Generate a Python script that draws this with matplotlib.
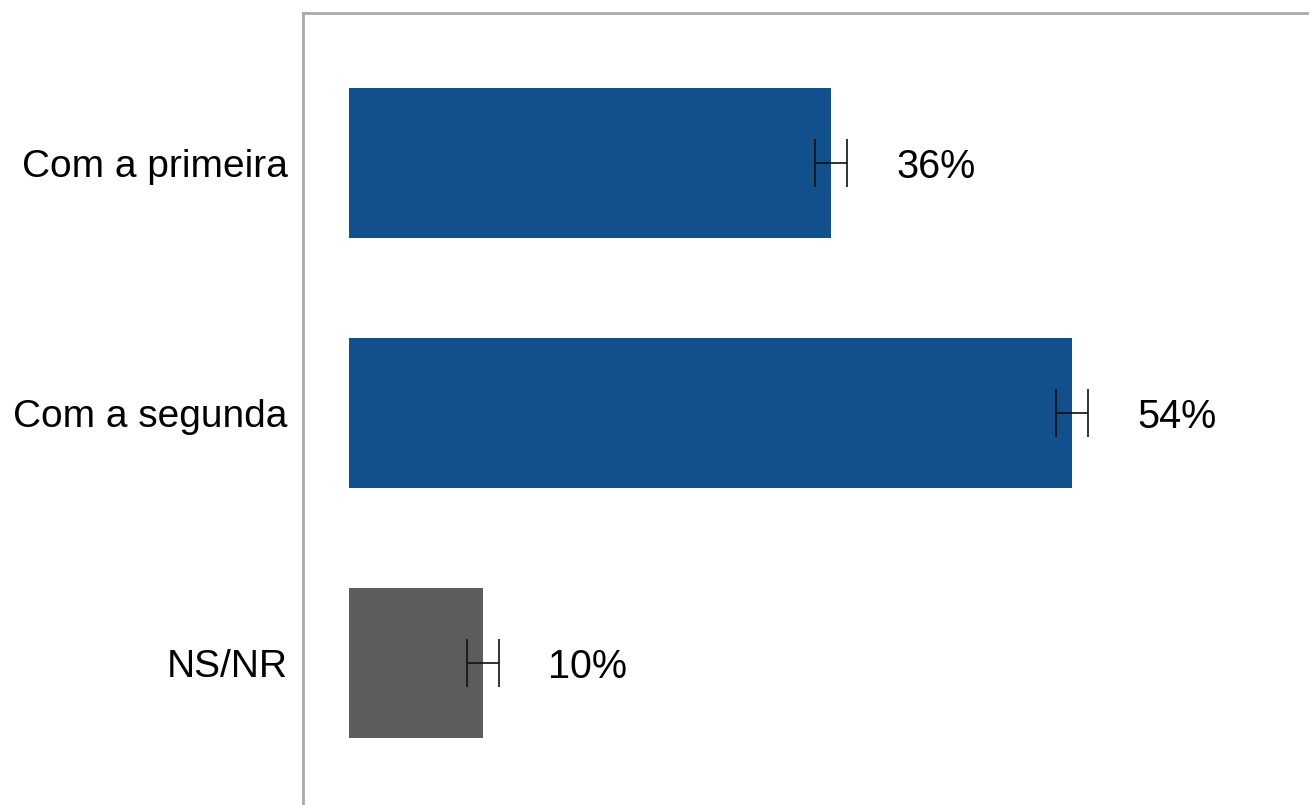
import matplotlib.pyplot as plt

# Data
categories = ['Com a primeira', 'Com a segunda', 'NS/NR']
values = [36, 54, 10]
errors = [1.2, 1.2, 1.2]
labels = ['36%', '54%', '10%']
colors = ['#11508C', '#11508C', '#5C5C5C']

plt.rcParams['font.family'] = ['Liberation Sans', 'DejaVu Sans']

fig = plt.figure(figsize=(13.09, 8.05), dpi=100)
ax = fig.add_axes([303 / 1309, 0, 1 - 303 / 1309, 1 - 13 / 805])

y = list(range(len(categories)))
ax.barh(y, values, height=0.6, color=colors, zorder=2)
ax.errorbar(values, y, xerr=errors, fmt='none', ecolor='#111111',
            elinewidth=1.2, capsize=17, capthick=1.2, zorder=3)

for yi, v, lab in zip(y, values, labels):
    ax.text(v + 4.9, yi, lab, ha='left', va='center_baseline', fontsize=28.5, color='black')

ax.set_yticks(y)
ax.set_yticklabels(categories, fontsize=28)
ax.tick_params(axis='y', length=0, pad=11)
ax.set_xticks([])
ax.set_xlim(-3.435, 71.7)
ax.set_ylim(2.57, -0.6)

for side in ['right', 'bottom']:
    ax.spines[side].set_visible(False)
for side in ['left', 'top']:
    ax.spines[side].set_color('#AAAAAA')
    ax.spines[side].set_linewidth(2)

plt.savefig('out.png', dpi=100)
